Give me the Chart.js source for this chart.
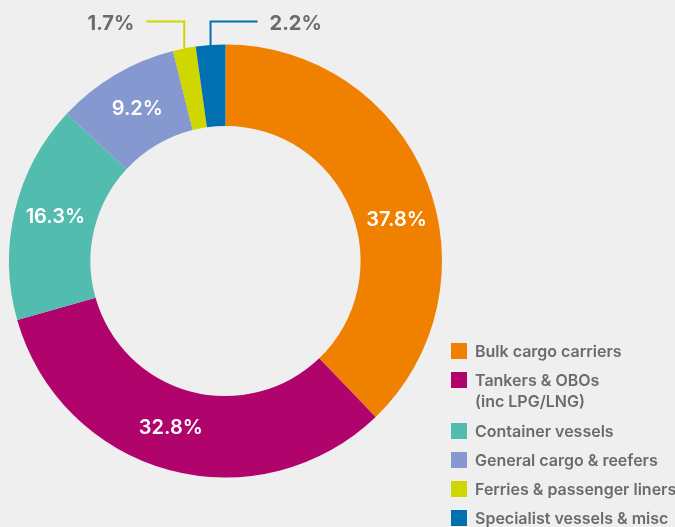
<!DOCTYPE html>
<html>
<head>
<meta charset="utf-8">
<script src="https://cdn.jsdelivr.net/npm/chart.js@4.4.1/dist/chart.umd.min.js"></script>
<style>
  html, body { margin: 0; padding: 0; background: #efefef; }
  #wrap { width: 675px; height: 527px; position: relative; }
</style>
</head>
<body>
<div id="wrap"><canvas id="fleet"></canvas></div>
<script>
// Fleet composition (share of total, %)
const categories = [
  ['Bulk cargo carriers'],
  ['Tankers & OBOs', '(inc LPG/LNG)'],
  ['Container vessels'],
  ['General cargo & reefers'],
  ['Ferries & passenger liners'],
  ['Specialist vessels & misc'],
];
const shares = [37.8, 32.8, 16.3, 9.2, 1.7, 2.2];
const colours = ['#f08000', '#b0036c', '#52bcae', '#8598cf', '#cfd600', '#0070b0'];

const FONT = "Inter, 'Noto Sans', sans-serif";
const GREY = '#6b6b6b';

// inside labels: small angular nudges (deg) to follow the original placement
const labelNudge = [8.6, 3, 1, 0.5];
// callouts for the two thin slices: horizontal leg length, sign = direction
const calloutLeg = { 4: -38, 5: 47 };

const sliceLabels = {
  id: 'sliceLabels',
  afterDatasetsDraw(chart) {
    const ctx = chart.ctx;
    const arcs = chart.getDatasetMeta(0).data;
    ctx.save();
    ctx.textAlign = 'center';
    ctx.textBaseline = 'middle';
    arcs.forEach((arc, i) => {
      const { x, y, startAngle, endAngle, innerRadius, outerRadius } = arc.getProps(
        ['x', 'y', 'startAngle', 'endAngle', 'innerRadius', 'outerRadius'], true);
      const mid = (startAngle + endAngle) / 2;
      const txt = shares[i].toFixed(1) + '%';
      if (i in calloutLeg) {
        const ax = x + outerRadius * Math.cos(mid);
        const ay = y + outerRadius * Math.sin(mid);
        const topY = y - outerRadius - 23;
        const ex = ax + calloutLeg[i];
        ctx.strokeStyle = colours[i];
        ctx.lineWidth = 2;
        ctx.beginPath();
        ctx.moveTo(ax, ay);
        ctx.lineTo(ax, topY);
        ctx.lineTo(ex, topY);
        ctx.stroke();
        ctx.fillStyle = GREY;
        ctx.font = '700 20px ' + FONT;
        ctx.textAlign = calloutLeg[i] < 0 ? 'right' : 'left';
        ctx.fillText(txt, ex + Math.sign(calloutLeg[i]) * 12, topY + 2);
        ctx.textAlign = 'center';
      } else {
        const a = mid + (labelNudge[i] || 0) * Math.PI / 180;
        const r = (innerRadius + outerRadius) / 2;
        ctx.fillStyle = '#ffffff';
        ctx.font = '600 20px ' + FONT;
        ctx.fillText(txt, x + r * Math.cos(a), y + r * Math.sin(a));
      }
    });
    ctx.restore();
  },
};

// legend drawn by hand so the two-line label lays out like the original
const sideLegend = {
  id: 'sideLegend',
  afterDraw(chart) {
    const ctx = chart.ctx;
    const left = 451, box = 16, textX = 475;
    const rowGap = 29, lineGap = 21;
    let top = 343;
    ctx.save();
    ctx.font = '600 16px ' + FONT;
    ctx.textBaseline = 'middle';
    ctx.textAlign = 'left';
    categories.forEach((lines, i) => {
      ctx.fillStyle = colours[i];
      ctx.fillRect(left, top, box, box);
      ctx.fillStyle = GREY;
      lines.forEach((ln, j) => ctx.fillText(ln, textX, top + box / 2 + 1 + j * lineGap));
      top += rowGap + (lines.length - 1) * (lineGap + 1);
    });
    ctx.restore();
  },
};

new Chart(document.getElementById('fleet'), {
  type: 'doughnut',
  data: {
    labels: categories.map(c => c.join(' ')),
    datasets: [{
      data: shares,
      backgroundColor: colours,
      borderWidth: 0,
      hoverOffset: 0,
    }],
  },
  options: {
    responsive: true,
    maintainAspectRatio: false,
    animation: false,
    cutout: '62.4%',
    layout: { padding: { left: 9, right: 233, top: 44.5, bottom: 49.5 } },
    plugins: {
      legend: { display: false },
      tooltip: { enabled: false },
    },
  },
  plugins: [sliceLabels, sideLegend],
});
</script>
</body>
</html>
